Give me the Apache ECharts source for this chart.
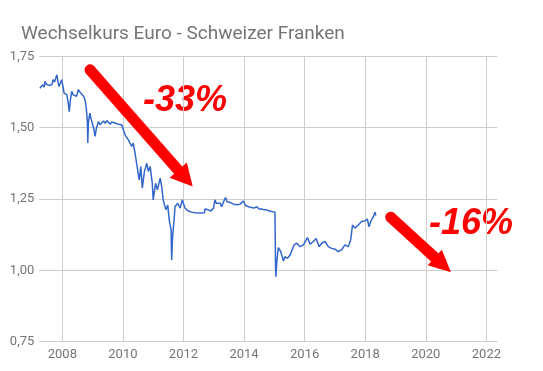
<!DOCTYPE html>
<html>
<head>
<meta charset="utf-8">
<script src="https://cdn.jsdelivr.net/npm/echarts@6/dist/echarts.min.js"></script>
<style>
html,body{margin:0;padding:0;background:#fff;}
#chart{width:543px;height:371px;}
</style>
</head>
<body>
<div id="chart"></div>
<script>
// Decimal years and EUR/CHF rate
const dates = [
  2007.26,2007.30,2007.35,2007.40,2007.43,2007.47,2007.52,2007.56,2007.60,2007.65,
  2007.70,2007.74,2007.78,2007.82,2007.86,2007.89,2007.93,2007.98,2008.02,2008.06,
  2008.10,2008.15,2008.19,2008.23,2008.27,2008.31,2008.36,2008.42,2008.47,2008.53,
  2008.58,2008.64,2008.70,2008.75,2008.79,2008.83,2008.84,2008.86,2008.91,2008.95,
  2009.02,2009.05,2009.08,2009.12,2009.19,2009.24,2009.30,2009.36,2009.42,2009.47,
  2009.52,2009.58,2009.63,2009.68,2009.74,2009.80,2009.85,2009.90,2009.96,2010.07,
  2010.18,2010.29,2010.34,2010.40,2010.46,2010.51,2010.54,2010.59,2010.64,2010.71,
  2010.79,2010.84,2010.90,2010.97,2011.00,2011.08,2011.14,2011.23,2011.28,2011.33,
  2011.42,2011.48,2011.53,2011.59,2011.61,2011.64,2011.69,2011.72,2011.81,2011.89,
  2011.96,2012.05,2012.16,2012.27,2012.40,2012.55,2012.69,2012.71,2012.82,2012.90,
  2012.99,2013.04,2013.08,2013.13,2013.21,2013.26,2013.35,2013.39,2013.44,2013.48,
  2013.54,2013.59,2013.65,2013.70,2013.78,2013.87,2013.93,2013.98,2014.04,2014.09,
  2014.17,2014.25,2014.33,2014.42,2014.50,2014.58,2014.66,2014.75,2014.83,2014.91,
  2014.97,2015.02,2015.04,2015.05,2015.08,2015.13,2015.21,2015.30,2015.35,2015.43,
  2015.52,2015.57,2015.65,2015.74,2015.85,2015.96,2016.01,2016.09,2016.18,2016.29,
  2016.38,2016.48,2016.56,2016.67,2016.78,2016.89,2017.00,2017.11,2017.22,2017.33,
  2017.44,2017.52,2017.58,2017.66,2017.77,2017.88,2017.99,2018.07,2018.12,2018.19,
  2018.27,2018.32,2018.35
];
const rates = [
  1.638,1.645,1.650,1.642,1.662,1.652,1.658,1.648,1.655,1.650,
  1.668,1.660,1.672,1.685,1.660,1.644,1.655,1.668,1.645,1.621,
  1.625,1.615,1.590,1.556,1.600,1.627,1.615,1.621,1.610,1.633,
  1.625,1.621,1.610,1.597,1.570,1.516,1.446,1.520,1.551,1.530,
  1.504,1.490,1.469,1.495,1.521,1.510,1.516,1.523,1.515,1.525,
  1.521,1.512,1.520,1.515,1.516,1.510,1.512,1.516,1.510,1.475,
  1.457,1.434,1.446,1.411,1.370,1.335,1.317,1.364,1.288,1.346,
  1.375,1.346,1.364,1.305,1.247,1.305,1.282,1.323,1.293,1.247,
  1.212,1.229,1.177,1.142,1.036,1.118,1.177,1.223,1.235,1.218,
  1.247,1.218,1.208,1.204,1.202,1.201,1.202,1.215,1.212,1.208,
  1.218,1.247,1.235,1.229,1.235,1.223,1.247,1.255,1.240,1.235,
  1.238,1.243,1.232,1.235,1.230,1.232,1.236,1.243,1.228,1.223,
  1.222,1.220,1.218,1.223,1.215,1.215,1.212,1.212,1.208,1.206,
  1.203,1.204,1.010,0.978,1.030,1.080,1.066,1.033,1.048,1.042,
  1.054,1.048,1.089,1.095,1.083,1.089,1.083,1.115,1.092,1.101,
  1.112,1.083,1.095,1.101,1.083,1.077,1.074,1.066,1.072,1.089,
  1.083,1.107,1.159,1.148,1.159,1.171,1.173,1.180,1.153,1.173,
  1.188,1.204,1.192
];
const yearTicks = [2008,2010,2012,2014,2016,2018,2020,2022];
const rateTicks = [0.75,1.00,1.25,1.50,1.75];
// Annotation arrows: [start, tip-side end] in data coordinates
const arrowDown1 = [[2008.915,1.7027],[2012.065,1.3224]];
const arrowDown2 = [[2018.842,1.1862],[2020.564,1.0193]];
const labels = ['-33%','-16%'];

const chart = echarts.init(document.getElementById('chart'), null, {renderer:'canvas'});
const gridColor = '#cccccc';
const textColor = '#757575';
function arrowItem(a, headW, headH){
  return [
    {coord:a[0], symbol:'circle', symbolSize:11},
    {coord:a[1], symbol:'triangle', symbolSize:[headW, headH]}
  ];
}
chart.setOption({
  animation:false,
  title:{
    text:'Wechselkurs Euro - Schweizer Franken',
    left:16, top:20,
    textStyle:{fontFamily:'Roboto', fontSize:19, fontWeight:'normal', color:textColor}
  },
  grid:{left:39.3, right:45.7, top:56.3, bottom:29.3, containLabel:false},
  xAxis:{
    type:'value', min:2007.24, max:2022.36,
    axisLine:{show:false},
    axisTick:{show:false, customValues:yearTicks},
    axisLabel:{customValues:yearTicks, formatter:v=>String(v), color:textColor,
      fontFamily:'Roboto', fontSize:13, margin:7},
    splitLine:{show:true, lineStyle:{color:gridColor, width:1}}
  },
  yAxis:{
    type:'value', min:0.75, max:1.75, interval:0.25,
    axisLine:{show:false}, axisTick:{show:false},
    axisLabel:{formatter:v=>v.toFixed(2).replace('.',','), color:textColor,
      fontFamily:'Roboto', fontSize:13, margin:5},
    splitLine:{show:true, lineStyle:{color:gridColor, width:1}}
  },
  series:[{
    type:'line',
    data:dates.map((d,i)=>[d,rates[i]]),
    showSymbol:false,
    lineStyle:{color:'#3366cc', width:1.5},
    itemStyle:{color:'#3366cc'},
    markLine:{
      silent:true,
      animation:false,
      label:{show:false},
      lineStyle:{color:'#ff0000', width:11, type:'solid', cap:'butt', opacity:1},
      itemStyle:{color:'#ff0000'},
      emphasis:{disabled:true},
      data:[arrowItem(arrowDown1,23,22), arrowItem(arrowDown2,21,22)]
    }
  }],
  graphic:[
    {type:'text', x:143, y:83, style:{text:labels[0], font:'italic bold 36px "Liberation Sans"', fill:'#ff0000'}},
    {type:'text', x:429, y:206, style:{text:labels[1], font:'italic bold 36px "Liberation Sans"', fill:'#ff0000'}}
  ]
});
</script>
</body>
</html>
